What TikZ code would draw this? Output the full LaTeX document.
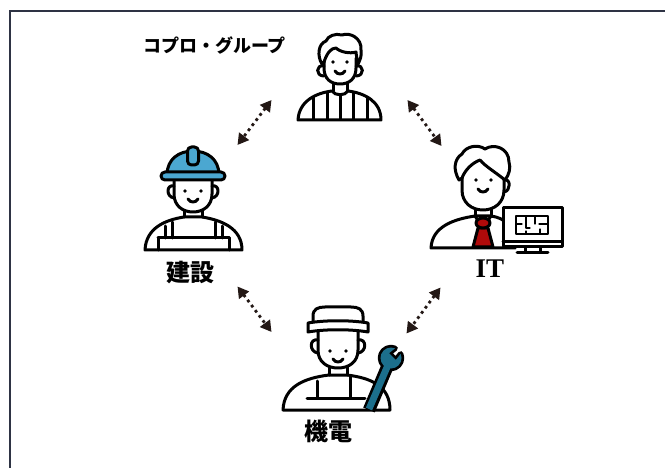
\documentclass[tikz,border=0pt]{standalone}
\usepackage{fontspec}
\newfontfamily\jpfont{Noto Sans CJK JP}
\newfontfamily\latinserif{Liberation Serif}
\usetikzlibrary{arrows.meta}
\definecolor{frameline}{HTML}{2E3344}
\definecolor{inkdark}{HTML}{231815}
\definecolor{helmetblue}{HTML}{4BA7D1}
\definecolor{wrenchteal}{HTML}{1C6F8C}
\definecolor{tiered}{HTML}{B00A0A}
\tikzset{
  ol/.style={draw=black, line width=3pt, line join=round, line cap=round},
  thin ol/.style={draw=black, line width=1.3pt, line join=round, line cap=round},
  eye/.style={fill=black},
  linkarrow/.style={inkdark, line width=2.8pt, dash pattern=on 2.8pt off 3.6pt,
    {Triangle[length=11pt,width=12pt]}-{Triangle[length=11pt,width=12pt]}},
  jplabel/.style={inner sep=0pt, font=\jpfont\bfseries\fontsize{24}{24}\selectfont},
}
\begin{document}
\begin{tikzpicture}[x=1pt,y=-1pt]
\useasboundingbox (0,0) rectangle (665,468);
\fill[white] (0,0) rectangle (665,468);

% outer frame (only left and top edges fall inside the page)
\draw[frameline, line width=2pt] (9.5,470) -- (9.5,11) -- (667,11);

% ---------- group member (top) ----------
\path[ol, fill=white] (298,120) .. controls (299,101) and (316,93) .. (332,91)
  .. controls (335,96) and (345,96) .. (348,91)
  .. controls (364,93) and (381,101) .. (381,120) -- cycle;
\begin{scope}
  \clip (298,120) .. controls (299,101) and (316,93) .. (332,91)
    .. controls (335,96) and (345,96) .. (348,91)
    .. controls (364,93) and (381,101) .. (381,120) -- cycle;
  \foreach \sx in {313,327,340,353,367} \draw[ol] (\sx,80) -- (\sx,121);
\end{scope}
\draw[ol] (333,82) -- (333,91) (347,82) -- (347,91);
\path[ol, fill=white] (324,58) -- (324,68) .. controls (324,79) and (331,84) .. (340,84)
  .. controls (349,84) and (356,79) .. (356,68) -- (356,58);
\draw[ol] (324,66) .. controls (316,64) and (315,76) .. (324,76);
\draw[ol] (356,66) .. controls (364,64) and (365,76) .. (356,76);
\path[ol, fill=white] (322,64) .. controls (317,56) and (318,44) .. (326,41)
  .. controls (328,36) and (335,33) .. (342,35)
  .. controls (350,32) and (362,38) .. (361,50)
  .. controls (362,56) and (360,60) .. (358,64)
  .. controls (357,58) and (356,54) .. (356,52)
  .. controls (350,54) and (340,52) .. (336,48)
  .. controls (331,48) and (327,53) .. (324,62) -- cycle;
\fill[eye] (333,62) circle (1.8) (347,62) circle (1.8);
\draw[ol] (335,71) .. controls (337,75) and (343,75) .. (345,71);
\node[jplabel, font=\jpfont\bfseries\fontsize{18}{18}\selectfont] (group) at (214.5,45.5) {コプロ・グループ};

% ---------- construction worker (left) ----------
\path[ol, fill=white] (145,250) .. controls (146,228) and (165,220) .. (184,217)
  -- (202,217) .. controls (221,220) and (242,228) .. (242,250) -- cycle;
\draw[ol] (165,226) -- (165,238) (172,222) -- (172,238);
\draw[ol] (215,222) -- (215,238) (222,226) -- (222,238);
\draw[ol] (158,238) -- (229,238) -- (229,250) (158,238) -- (158,250);
\draw[ol] (184,208) -- (184,217) (202,208) -- (202,217);
\path[ol, fill=white] (174,178) -- (174,194) .. controls (174,206) and (183,212) .. (193,212)
  .. controls (203,212) and (212,206) .. (212,194) -- (212,178);
\draw[ol] (174,186) .. controls (166,184) and (166,197) .. (174,198);
\draw[ol] (212,186) .. controls (220,184) and (220,197) .. (212,198);
\fill[eye] (185,191) circle (1.8) (201,191) circle (1.8);
\draw[ol] (188,199) .. controls (190,203) and (196,203) .. (198,199);
\path[ol, fill=helmetblue] (167,175) .. controls (167,159) and (179,151) .. (193,151)
  .. controls (207,151) and (219,159) .. (219,175) -- cycle;
\path[ol, fill=helmetblue, rounded corners=4pt] (187.5,147) rectangle (198.5,165);
\path[ol, fill=helmetblue, rounded corners=4pt] (161,172) rectangle (225,180);
\node[jplabel] (kensetsu) at (190,272.5) {建設};

% ---------- IT engineer (right) ----------
\path[ol, fill=white] (431,248) .. controls (432,226) and (455,219) .. (475,216)
  -- (491,216) .. controls (505,218) and (515,226) .. (515,248) -- cycle;
\draw[ol] (475,207) -- (475,216) (491,207) -- (491,216);
\draw[ol] (475,216) -- (479,222) (491,216) -- (487,222);
\path[ol, fill=tiered] (478,228) -- (473,247) -- (493,247) -- (488,228) -- cycle;
\path[ol, fill=tiered] (483,223) ellipse (7 and 5);
\path[ol, fill=white] (462,172) -- (462,190) .. controls (462,203) and (472,210) .. (483,210)
  .. controls (494,210) and (504,203) .. (504,190) -- (504,175);
\draw[ol] (504,180) .. controls (511,178) and (511,191) .. (504,192);
\path[ol, fill=white] (459,180) .. controls (453,170) and (454,159) .. (462,154)
  .. controls (466,146) and (478,144) .. (485,149)
  .. controls (494,143) and (509,148) .. (509,162)
  .. controls (511,168) and (509,175) .. (505,180)
  .. controls (495,172) and (485,166) .. (480,160)
  .. controls (472,163) and (465,170) .. (462,178) -- cycle;
\fill[eye] (476,180) circle (1.8) (491,180) circle (1.8);
\draw[ol] (478,189) .. controls (480,193) and (486,193) .. (488,189);
% monitor with a floor plan on screen
\path[ol, fill=white] (503,208) rectangle (562,247);
\draw[ol] (503,242) -- (562,242);
\path[ol, fill=white] (525,247) rectangle (540,252.5);
\draw[ol] (517,253) -- (548,253);
\draw[thin ol] (516,216) rectangle (548,234);
\draw[thin ol] (516,224) -- (522,224) (526,216) -- (526,228) -- (530,228)
  (535,216) -- (535,224) (539,224) -- (548,224) (526,231) -- (526,234) (540,229) -- (540,234);
\node[inner sep=0pt, font=\latinserif\bfseries\fontsize{27}{27}\selectfont] (it) at (490,269) {IT};

% ---------- mechanic (bottom) ----------
\path[ol, fill=white] (283,410) .. controls (284,386) and (305,378) .. (329,375)
  -- (347,375) .. controls (371,378) and (390,386) .. (390,410) -- cycle;
\draw[ol] (317,381) -- (317,398) (350,377) -- (350,398) (307,398) -- (365,398);
\draw[ol] (329,366) -- (329,375) (347,366) -- (347,375);
\path[ol, fill=white] (318,330) -- (318,350) .. controls (318,362) and (327,368) .. (338,368)
  .. controls (349,368) and (358,362) .. (358,350) -- (358,330);
\draw[ol] (318,340) .. controls (309,338) and (309,352) .. (318,353);
\draw[ol] (358,340) .. controls (367,338) and (367,352) .. (358,353);
\fill[eye] (330,351) circle (1.8) (346,351) circle (1.8);
\draw[ol] (333,359) .. controls (335,363) and (341,363) .. (343,359);
\path[ol, fill=white] (313,323) -- (313,316) .. controls (313,309) and (318,307) .. (325,307)
  -- (351,307) .. controls (358,307) and (363,309) .. (363,316) -- (363,323) -- cycle;
\path[ol, fill=white] (308,323) .. controls (325,320) and (351,320) .. (368,323)
  -- (368,332) .. controls (351,329) and (325,329) .. (308,332) -- cycle;
% wrench
\draw[black, line width=12.5pt] (388,365) -- (369,410);
\begin{scope}[shift={(391,358)}, rotate=45]
  \filldraw[black, line width=5.5pt, line join=round]
    (22:10.5) arc[start angle=22, end angle=338, radius=10.5] -- (2,-4.8) -- (2,4.8) -- cycle;
\end{scope}
\draw[wrenchteal, line width=6.8pt] (388,365) -- (369,409);
\begin{scope}[shift={(391,358)}, rotate=45]
  \fill[wrenchteal]
    (22:10.5) arc[start angle=22, end angle=338, radius=10.5] -- (2,-4.8) -- (2,4.8) -- cycle;
\end{scope}
\node[jplabel] (kiden) at (328,431) {機電};

% ---------- connections ----------
\coordinate (tl1) at (271.5,100);  \coordinate (tl2) at (237.5,145);
\coordinate (tr1) at (407.5,100);  \coordinate (tr2) at (441.5,146);
\coordinate (bl1) at (237.5,286.5);\coordinate (bl2) at (271.5,332);
\coordinate (br1) at (440.5,287.5);\coordinate (br2) at (406.5,333.5);
\draw[linkarrow] (tl1) -- (tl2);
\draw[linkarrow] (tr1) -- (tr2);
\draw[linkarrow] (bl1) -- (bl2);
\draw[linkarrow] (br1) -- (br2);
\end{tikzpicture}
\end{document}
